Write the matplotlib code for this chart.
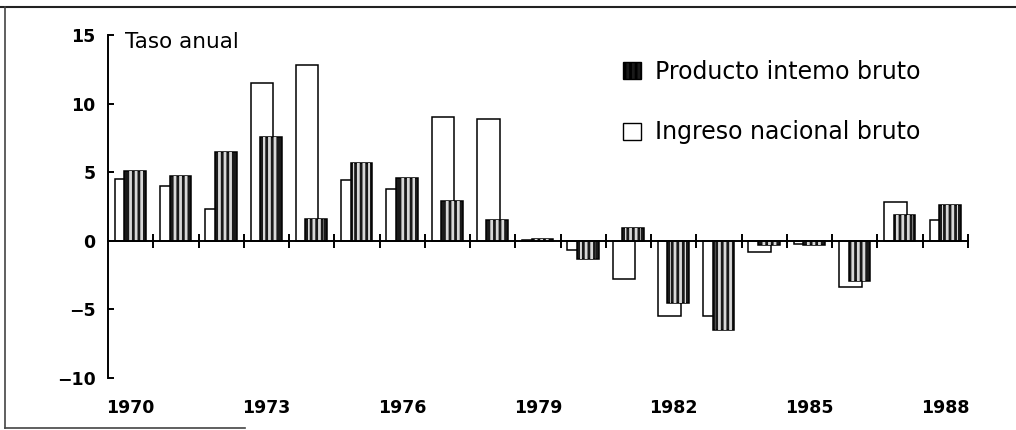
import numpy as np
import matplotlib
matplotlib.use("Agg")
import matplotlib.pyplot as plt
from matplotlib.patches import Patch
from matplotlib.lines import Line2D

# annual growth rates
years = list(range(1970, 1989))
pib = [5.1, 4.7, 6.5, 7.6, 1.6, 5.7, 4.6, 2.9, 1.5, 0.15, -1.3, 0.9, -4.5, -6.5, -0.3, -0.3, -2.9, 1.9, 2.6]
inb = [4.5, 4.0, 2.3, 11.5, 12.8, 4.4, 3.8, 9.0, 8.9, 0.05, -0.7, -2.8, -5.5, -5.5, -0.8, -0.2, -3.4, 2.8, 1.5]
label_years = [1970, 1973, 1976, 1979, 1982, 1985, 1988]
y_ticks = [-10, -5, 0, 5, 10, 15]

plt.rcParams['font.family'] = ['DejaVu Sans']
plt.rcParams['hatch.linewidth'] = 2.0

fig = plt.figure(figsize=(10.16, 4.3), dpi=100)
ax = fig.add_axes([108 / 1016, 1 - 378 / 430, 860 / 1016, 343 / 430])

x = np.arange(len(years))
ax.bar(x + 0.40, inb, width=0.5, facecolor='white', edgecolor='black', linewidth=1.1, zorder=2)
ax.bar(x + 0.60, pib, width=0.48, facecolor='#1a1a1a', edgecolor='black', linewidth=1.1, zorder=3)
ax.bar(x + 0.60, pib, width=0.36, facecolor='none', edgecolor='#d8d8d8', hatch='|||', linewidth=0, zorder=4)

ax.set_xlim(0, len(years))
ax.set_ylim(-10, 15)

for s in ['top', 'right']:
    ax.spines[s].set_visible(False)
ax.spines['bottom'].set_position(('data', 0))
ax.spines['bottom'].set_linewidth(1.4)
ax.spines['left'].set_linewidth(1.4)
ax.spines['bottom'].set_zorder(5)

ax.set_xticks(np.arange(1, len(years) + 1))
ax.set_xticklabels([])
ax.tick_params(axis='x', direction='inout', length=10, width=1.4)
ax.set_yticks(y_ticks)
ax.set_yticklabels([str(v).replace('-', '\u2212') for v in y_ticks], fontsize=12.5, fontweight='bold')
ax.tick_params(axis='y', direction='in', length=4, width=1.4, pad=9)

sec = ax.secondary_xaxis('bottom')
sec.spines['bottom'].set_visible(False)
sec.set_xticks([years.index(y) + 0.5 for y in label_years])
sec.set_xticklabels([str(y) for y in label_years], fontsize=12.5, fontweight='bold')
sec.tick_params(length=0, pad=15)

ax.text(0.02, 0.962, 'Taso anual', transform=ax.transAxes, fontsize=15.5, va='baseline', ha='left')

handles = [Patch(facecolor='#1a1a1a', edgecolor='black', hatch='|||'),
           Patch(facecolor='white', edgecolor='black')]
leg = ax.legend(handles, ['Producto intemo bruto', 'Ingreso nacional bruto'],
                loc='upper left', bbox_to_anchor=(611 / 1016, 1 - 48 / 430),
                bbox_transform=fig.transFigure, frameon=False, fontsize=17,
                handlelength=0.75, handleheight=0.75, handletextpad=0.6,
                labelspacing=1.55, borderpad=0)

# scanned frame around the figure
fig.add_artist(Line2D([0, 1], [1 - 7 / 430, 1 - 7 / 430], color='#222', lw=1.5, transform=fig.transFigure))
fig.add_artist(Line2D([5 / 1016, 5 / 1016], [1 - 7 / 430, 2 / 430], color='#444', lw=1.2, transform=fig.transFigure))
fig.add_artist(Line2D([5 / 1016, 245 / 1016], [2 / 430, 2 / 430], color='#444', lw=1.2, transform=fig.transFigure))

fig.savefig('out.png', dpi=100)
